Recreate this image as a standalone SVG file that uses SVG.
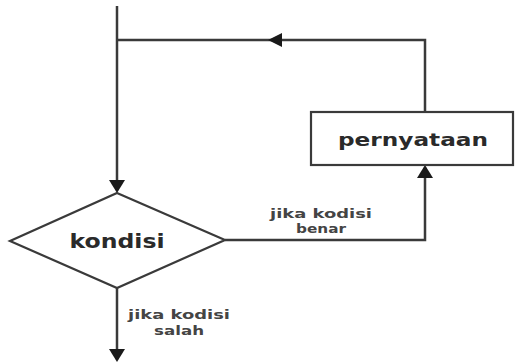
<svg xmlns="http://www.w3.org/2000/svg" width="518" height="362" viewBox="0 0 518 362">
  <style>
    .line { fill: none; stroke: #3a3a3a; stroke-width: 2.5; }
    .shape { fill: #ffffff; stroke: #3a3a3a; stroke-width: 2.2; }
    .head { fill: #1a1a1a; }
    .title { font-family: "DejaVu Sans", Verdana, sans-serif; font-weight: bold; fill: #2a2a2a; text-anchor: middle; }
    .label { font-family: "DejaVu Sans", Verdana, sans-serif; font-weight: bold; font-size: 12.5px; fill: #444444; text-anchor: middle; }
  </style>
  <rect width="518" height="362" fill="#ffffff"/>

  <g id="connectors">
    <!-- entry line down to the decision -->
    <path class="line" d="M117 6 V184"/>
    <polygon class="head" points="109,180 125,180 117,193"/>
    <!-- loop back from the statement box -->
    <path class="line" d="M425 112 V40 H117"/>
    <polygon class="head" points="268,40 282,33 282,47"/>
    <!-- true branch into the statement box -->
    <path class="line" d="M225 240 H425 V172"/>
    <polygon class="head" points="425,165 417,178 433,178"/>
    <!-- false branch exit -->
    <path class="line" d="M117 288 V356"/>
    <polygon class="head" points="109,349 125,349 117,362"/>
    <text class="label" x="321" y="218" textLength="102" lengthAdjust="spacingAndGlyphs">jika kodisi</text>
    <text class="label" x="321" y="233" textLength="50" lengthAdjust="spacingAndGlyphs">benar</text>
    <text class="label" x="179" y="319" textLength="102" lengthAdjust="spacingAndGlyphs">jika kodisi</text>
    <text class="label" x="179" y="335" textLength="50" lengthAdjust="spacingAndGlyphs">salah</text>
  </g>

  <g id="pernyataan">
    <rect class="shape" x="311" y="112" width="202" height="53"/>
    <text class="title" x="413" y="146" font-size="17.5" textLength="150" lengthAdjust="spacingAndGlyphs">pernyataan</text>
  </g>

  <g id="kondisi">
    <polygon class="shape" points="117,193 225,240 117,288 10,241"/>
    <text class="title" x="117" y="248" font-size="19" textLength="95" lengthAdjust="spacingAndGlyphs">kondisi</text>
  </g>
</svg>
